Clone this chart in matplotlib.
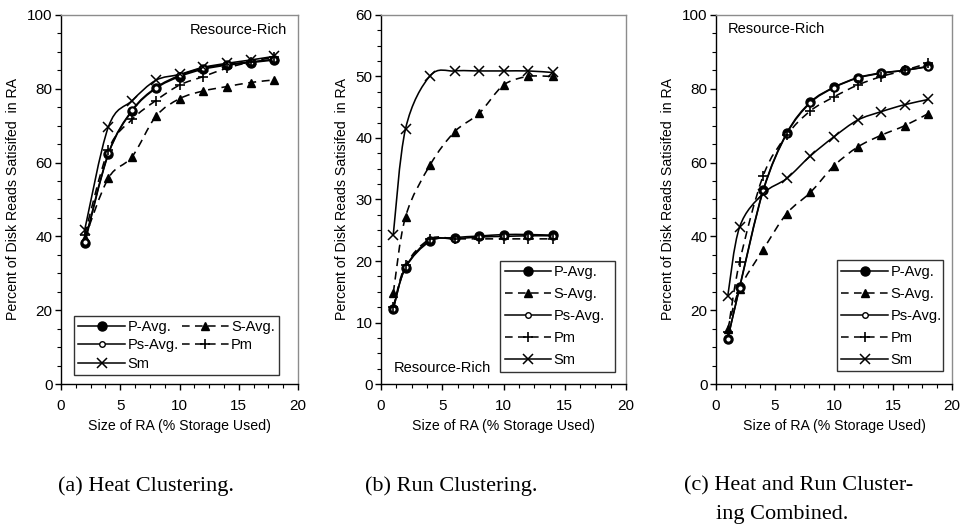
import matplotlib
matplotlib.use("Agg")
import matplotlib.pyplot as plt
import numpy as np
from matplotlib.lines import Line2D
from matplotlib.patches import PathPatch
from matplotlib.path import Path
from matplotlib.ticker import MultipleLocator

# ---------------------------------------------------------------------------
# Data
# ---------------------------------------------------------------------------

# (a) Heat Clustering
X_A = [2, 4, 6, 8, 10, 12, 14, 16, 18]
A_P_AVG = [38.1, 62.3, 74.0, 80.1, 83.3, 85.3, 86.4, 87.1, 87.8]
A_S_AVG = [39.5, 55.8, 61.6, 72.5, 77.3, 79.4, 80.6, 81.7, 82.4]
A_PS_AVG = [38.6, 62.5, 74.2, 80.3, 83.6, 85.6, 86.6, 87.3, 88.0]
A_PM = [40.5, 63.5, 71.7, 76.8, 81.0, 83.3, 85.6, 87.3, 88.6]
A_SM = [41.8, 69.7, 76.8, 82.3, 83.9, 85.8, 86.9, 87.8, 88.8]

# (b) Run Clustering
X_B = [1, 2, 4, 6, 8, 10, 12, 14]
B_P_AVG = [12.2, 18.9, 23.2, 23.8, 24.05, 24.3, 24.3, 24.2]
B_S_AVG = [14.8, 27.2, 35.6, 41.0, 44.0, 48.6, 50.0, 50.0]
B_PS_AVG = [12.2, 19.0, 23.4, 23.6, 23.9, 24.0, 24.1, 24.1]
B_PM = [12.5, 19.3, 23.6, 23.6, 23.6, 23.6, 23.6, 23.6]
B_SM = [24.3, 41.5, 50.1, 50.9, 50.9, 50.9, 50.9, 50.65]

# (c) Heat and Run Clustering Combined
X_C = [1, 2, 4, 6, 8, 10, 12, 14, 16, 18]
C_P_AVG = [12.2, 26.2, 52.5, 68.0, 76.4, 80.4, 83.0, 84.3, 85.0, 86.1]
C_S_AVG = [15.0, 25.8, 36.4, 46.2, 51.9, 59.1, 64.2, 67.4, 70.0, 73.3]
C_PS_AVG = [12.2, 26.0, 52.3, 67.8, 76.2, 80.3, 82.9, 84.2, 85.0, 86.0]
C_PM = [14.0, 33.0, 56.4, 67.4, 74.0, 77.8, 81.0, 83.3, 85.0, 87.0]
C_SM = [23.8, 42.5, 51.6, 55.7, 61.8, 67.0, 71.5, 73.8, 75.7, 77.1]

SERIES_NAMES = ["P-Avg.", "S-Avg.", "Ps-Avg.", "Pm", "Sm"]

YLABEL = "Percent of Disk Reads Satisifed  in RA"
XLABEL = "Size of RA (% Storage Used)"
NOTE = "Resource-Rich"
CAPTIONS = ["(a) Heat Clustering.", "(b) Run Clustering.",
            "(c) Heat and Run Cluster-", "ing Combined."]

# ---------------------------------------------------------------------------
# Styles
# ---------------------------------------------------------------------------

SANS = ["Liberation Sans", "DejaVu Sans"]
SERIF = ["Liberation Serif", "DejaVu Serif"]
FS = 10.2

DASH = (0, (5, 3.5))
STYLES = {
    "P-Avg.":  dict(ls="-", marker="o", ms=6.5, mfc="black", mec="black"),
    "S-Avg.":  dict(ls=DASH, marker="^", ms=6.0, mfc="black", mec="black"),
    "Ps-Avg.": dict(ls="-", marker="o", ms=4.0, mfc="white", mec="black", mew=1.0),
    "Pm":      dict(ls=DASH, marker="+", ms=7.5, mfc="black", mec="black", mew=1.2),
    "Sm":      dict(ls="-", marker="x", ms=6.5, mfc="black", mec="black", mew=1.1),
}


def smooth_path(xs, ys):
    """Excel-style smoothed line: Catmull-Rom segments as cubic Beziers."""
    pts = np.column_stack([xs, ys]).astype(float)
    n = len(pts)
    verts = [pts[0]]
    codes = [Path.MOVETO]
    for i in range(n - 1):
        p0 = pts[i - 1] if i > 0 else pts[i]
        p1, p2 = pts[i], pts[i + 1]
        p3 = pts[i + 2] if i + 2 < n else pts[i + 1]
        c1 = p1 + (p2 - p0) / 6.0
        c2 = p2 - (p3 - p1) / 6.0
        verts += [c1, c2, p2]
        codes += [Path.CURVE4] * 3
    return Path(verts, codes)


def draw_series(ax, xs, ys, name):
    st = STYLES[name]
    patch = PathPatch(smooth_path(xs, ys), fill=False, lw=1.15,
                      ls=st["ls"], edgecolor="black", zorder=2)
    ax.add_patch(patch)
    ax.plot(xs, ys, ls="none", marker=st["marker"], ms=st["ms"],
            mfc=st["mfc"], mec=st["mec"], mew=st.get("mew", 1.0),
            clip_on=False, zorder=3)


def legend_handle(name):
    st = STYLES[name]
    return Line2D([], [], color="black", lw=1.1, ls=st["ls"],
                  marker=st["marker"], ms=st["ms"], mfc=st["mfc"],
                  mec=st["mec"], mew=st.get("mew", 1.0), label=name)


def style_axes(ax, ymax, ymajor, yminor):
    ax.set_xlim(0, 20)
    ax.set_ylim(0, ymax)
    ax.xaxis.set_major_locator(MultipleLocator(5))
    ax.xaxis.set_minor_locator(MultipleLocator(1.25))
    ax.yaxis.set_major_locator(MultipleLocator(ymajor))
    ax.yaxis.set_minor_locator(MultipleLocator(yminor))
    ax.tick_params(which="major", direction="out", length=4, width=1,
                   labelsize=FS + 0.8, pad=2)
    ax.tick_params(which="minor", direction="out", length=3, width=0.8)
    ax.tick_params(axis="x", which="major", pad=7)
    for side in ("left", "bottom"):
        ax.spines[side].set_color("black")
        ax.spines[side].set_linewidth(1.0)
    for side in ("top", "right"):
        ax.spines[side].set_color("#8c8c8c")
        ax.spines[side].set_linewidth(1.0)
    for lab in ax.get_xticklabels() + ax.get_yticklabels():
        lab.set_family(SANS)
    ax.set_xlabel(XLABEL, fontsize=FS, family=SANS, labelpad=4)
    ax.set_ylabel(YLABEL, fontsize=FS, family=SANS, labelpad=5)


def add_legend(ax, order, ncol, bbox, spacing, pad):
    handles = [legend_handle(n) for n in order]
    leg = ax.legend(handles=handles, ncol=ncol, loc="lower left",
                    bbox_to_anchor=bbox, mode="expand", borderaxespad=0,
                    frameon=True, fancybox=False, shadow=False,
                    handlelength=3.2, handletextpad=0.15,
                    labelspacing=spacing, columnspacing=0.6, borderpad=pad,
                    prop=dict(family=SANS, size=FS + 0.3))
    leg.get_frame().set_edgecolor("black")
    leg.get_frame().set_linewidth(1.0)
    return leg


# ---------------------------------------------------------------------------
# Figure
# ---------------------------------------------------------------------------

fig = plt.figure(figsize=(9.61, 5.31), dpi=100)
ax_a = fig.add_axes([0.0635, 0.2768, 0.2466, 0.695])
ax_b = fig.add_axes([0.3965, 0.2768, 0.2550, 0.695])
ax_c = fig.add_axes([0.7450, 0.2768, 0.2456, 0.695])

panels = [
    (ax_a, X_A, [A_P_AVG, A_S_AVG, A_PS_AVG, A_PM, A_SM]),
    (ax_b, X_B, [B_P_AVG, B_S_AVG, B_PS_AVG, B_PM, B_SM]),
    (ax_c, X_C, [C_P_AVG, C_S_AVG, C_PS_AVG, C_PM, C_SM]),
]
for ax, xs, ys_list in panels:
    for name, ys in zip(SERIES_NAMES, ys_list):
        draw_series(ax, xs, ys, name)

style_axes(ax_a, 100, 20, 5)
style_axes(ax_b, 60, 10, 2.5)
style_axes(ax_c, 100, 20, 5)

add_legend(ax_a, ["P-Avg.", "Ps-Avg.", "Sm", "S-Avg.", "Pm"], 2,
           (0.055, 0.024, 0.865, 0.166), 0.3, 0.3)
add_legend(ax_b, SERIES_NAMES, 1, (0.486, 0.033, 0.469, 0.3), 0.55, 0.3)
add_legend(ax_c, SERIES_NAMES, 1, (0.513, 0.035, 0.449, 0.3), 0.55, 0.3)

ax_a.text(0.954, 0.959, NOTE, transform=ax_a.transAxes, ha="right",
          va="center", fontsize=FS + 0.3, family=SANS)
ax_b.text(0.053, 0.043, NOTE, transform=ax_b.transAxes, ha="left",
          va="center", fontsize=FS + 0.3, family=SANS)
ax_c.text(0.051, 0.962, NOTE, transform=ax_c.transAxes, ha="left",
          va="center", fontsize=FS + 0.3, family=SANS)

CAP_FS = 16
fig.text(58 / 961, 1 - 486 / 531, CAPTIONS[0], ha="left", va="center",
         fontsize=CAP_FS, family=SERIF)
fig.text(365 / 961, 1 - 486 / 531, CAPTIONS[1], ha="left", va="center",
         fontsize=CAP_FS, family=SERIF)
fig.text(684 / 961, 1 - 486 / 531, CAPTIONS[2], ha="left", va="center",
         fontsize=CAP_FS, family=SERIF)
fig.text(716 / 961, 1 - 514 / 531, CAPTIONS[3], ha="left", va="center",
         fontsize=CAP_FS, family=SERIF)

fig.savefig("out.png", dpi=100)
